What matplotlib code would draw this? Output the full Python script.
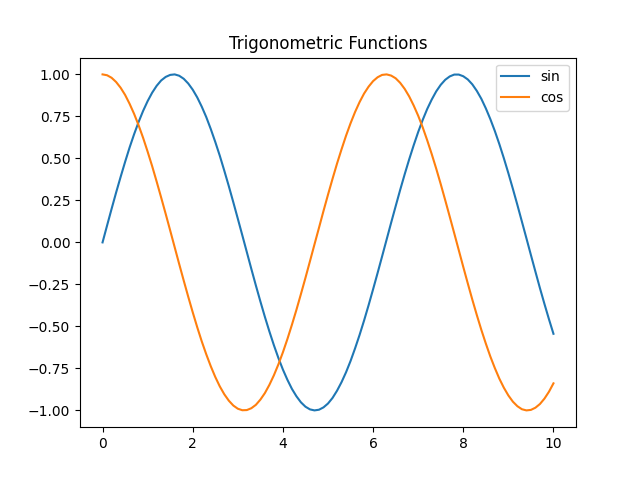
import matplotlib
matplotlib.use("Agg")
import matplotlib.pyplot as plt

# x positions and values
x = [0.0, 0.1, 0.2, 0.3, 0.4, 0.5, 0.6, 0.7, 0.8, 0.9,
     1.0, 1.1, 1.2, 1.3, 1.4, 1.5, 1.6, 1.7, 1.8, 1.9,
     2.0, 2.1, 2.2, 2.3, 2.4, 2.5, 2.6, 2.7, 2.8, 2.9,
     3.0, 3.1, 3.2, 3.3, 3.4, 3.5, 3.6, 3.7, 3.8, 3.9,
     4.0, 4.1, 4.2, 4.3, 4.4, 4.5, 4.6, 4.7, 4.8, 4.9,
     5.0, 5.1, 5.2, 5.3, 5.4, 5.5, 5.6, 5.7, 5.8, 5.9,
     6.0, 6.1, 6.2, 6.3, 6.4, 6.5, 6.6, 6.7, 6.8, 6.9,
     7.0, 7.1, 7.2, 7.3, 7.4, 7.5, 7.6, 7.7, 7.8, 7.9,
     8.0, 8.1, 8.2, 8.3, 8.4, 8.5, 8.6, 8.7, 8.8, 8.9,
     9.0, 9.1, 9.2, 9.3, 9.4, 9.5, 9.6, 9.7, 9.8, 9.9,
     10.0]

sin_vals = [0.000, 0.100, 0.199, 0.296, 0.389, 0.479, 0.565, 0.644, 0.717, 0.783,
            0.841, 0.891, 0.932, 0.964, 0.985, 0.997, 1.000, 0.992, 0.974, 0.946,
            0.909, 0.863, 0.808, 0.746, 0.675, 0.598, 0.516, 0.427, 0.335, 0.239,
            0.141, 0.042, -0.058, -0.158, -0.256, -0.351, -0.443, -0.530, -0.612, -0.688,
            -0.757, -0.818, -0.872, -0.916, -0.952, -0.978, -0.994, -1.000, -0.996, -0.982,
            -0.959, -0.926, -0.883, -0.832, -0.773, -0.706, -0.631, -0.551, -0.465, -0.374,
            -0.279, -0.182, -0.083, 0.017, 0.117, 0.215, 0.312, 0.405, 0.494, 0.578,
            0.657, 0.729, 0.794, 0.850, 0.899, 0.938, 0.968, 0.988, 0.999, 0.999,
            0.989, 0.970, 0.941, 0.902, 0.855, 0.798, 0.734, 0.663, 0.585, 0.501,
            0.412, 0.319, 0.223, 0.124, 0.025, -0.075, -0.174, -0.272, -0.366, -0.457,
            -0.544]

cos_vals = [1.000, 0.995, 0.980, 0.955, 0.921, 0.878, 0.825, 0.765, 0.697, 0.622,
            0.540, 0.454, 0.362, 0.267, 0.170, 0.071, -0.029, -0.129, -0.227, -0.323,
            -0.416, -0.505, -0.589, -0.666, -0.737, -0.801, -0.857, -0.904, -0.942, -0.971,
            -0.990, -0.999, -0.998, -0.987, -0.967, -0.936, -0.897, -0.848, -0.791, -0.726,
            -0.654, -0.575, -0.490, -0.401, -0.307, -0.211, -0.112, -0.012, 0.087, 0.187,
            0.284, 0.378, 0.469, 0.554, 0.635, 0.709, 0.776, 0.835, 0.886, 0.927,
            0.960, 0.983, 0.997, 1.000, 0.993, 0.977, 0.950, 0.914, 0.869, 0.815,
            0.754, 0.685, 0.608, 0.526, 0.439, 0.347, 0.251, 0.153, 0.054, -0.046,
            -0.146, -0.244, -0.340, -0.432, -0.520, -0.602, -0.679, -0.748, -0.811, -0.865,
            -0.911, -0.948, -0.975, -0.993, -1.000, -0.997, -0.984, -0.962, -0.930, -0.889,
            -0.839]

fig, ax = plt.subplots(figsize=(6.4, 4.8), dpi=100)
ax.plot(x, sin_vals, label='sin')
ax.plot(x, cos_vals, label='cos')
ax.set_title('Trigonometric Functions')
ax.legend(loc='upper right')

plt.savefig("out.png")
